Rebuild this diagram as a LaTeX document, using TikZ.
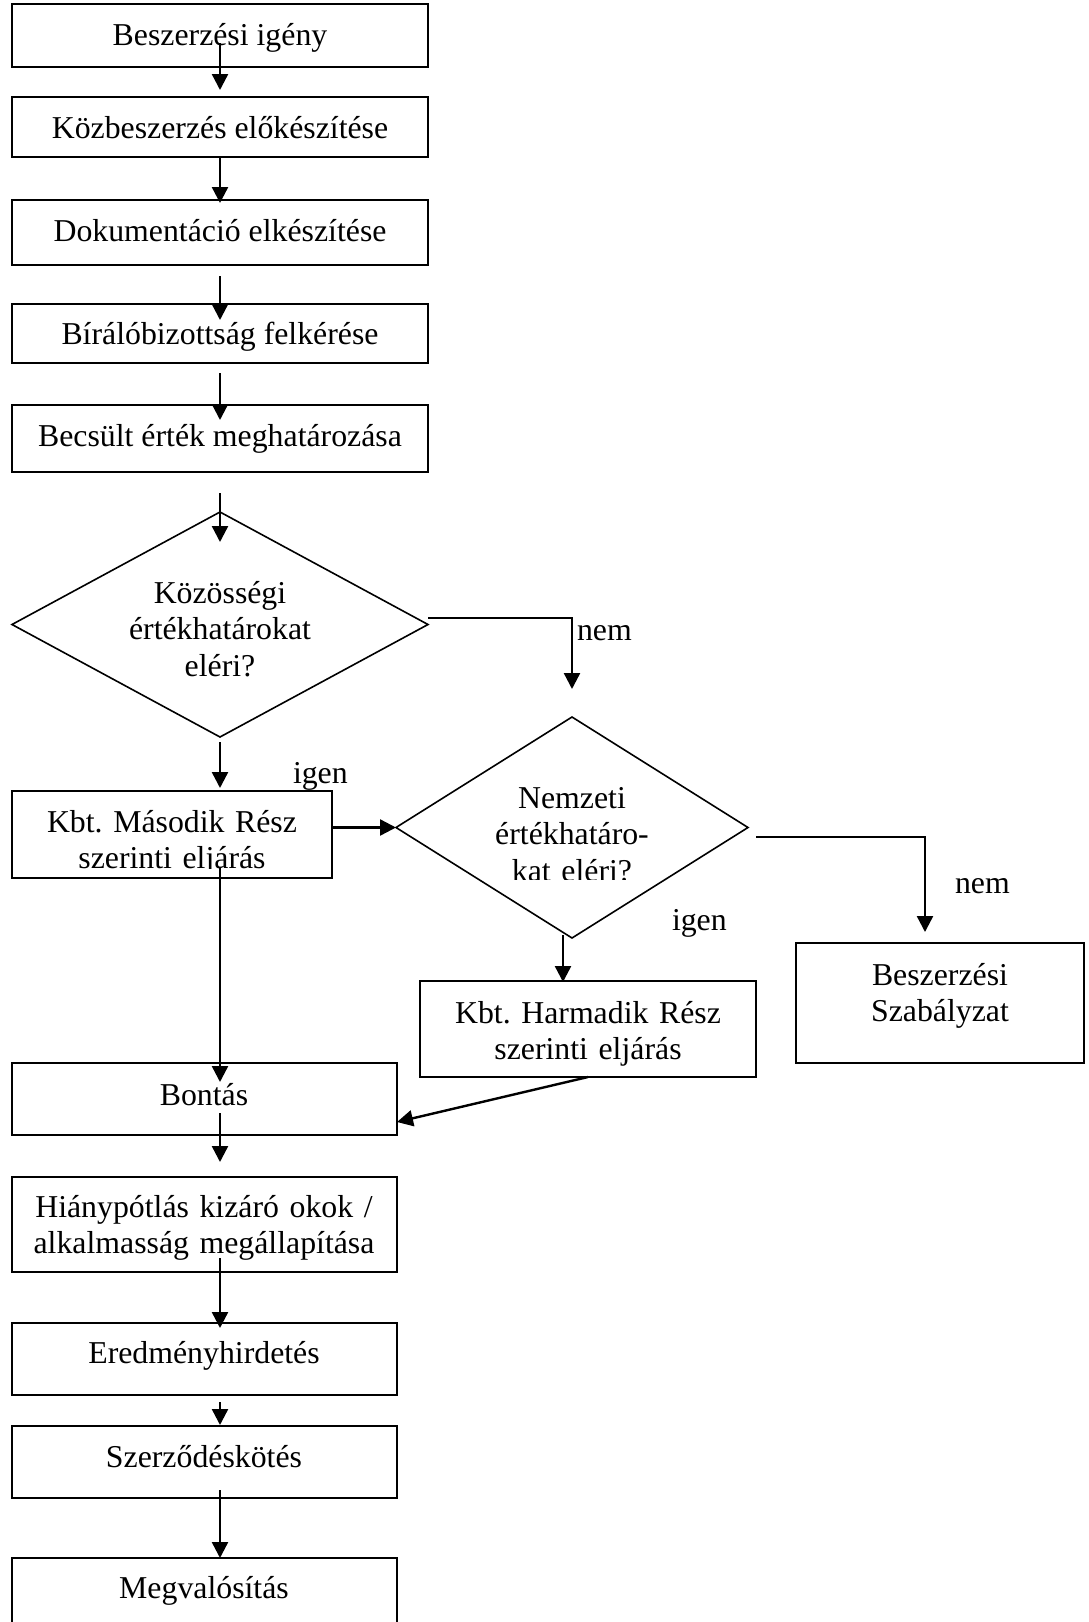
\documentclass[tikz,border=0pt]{standalone}
\usepackage{fontspec}
\setmainfont{Liberation Serif}
\usetikzlibrary{arrows.meta,shapes.geometric,calc}
\frenchspacing
\begin{document}
\begin{tikzpicture}[x=1pt,y=-1pt,
  box/.style={draw, line width=2.3pt, rectangle, inner sep=0pt, outer sep=0pt},
  dia/.style={draw, line width=1.6pt, diamond, inner sep=0pt, outer sep=0pt},
  txt/.style={inner sep=0pt, outer sep=0pt, anchor=base, font=\fontsize{31.8}{36.5}\selectfont\frenchspacing},
  mtxt/.style={txt, text width=420pt, align=center},
  lbl/.style={txt, anchor=base west},
  arr/.style={line width=2.4pt, -{Triangle[length=16pt,width=16pt]}},
]
\useasboundingbox (0,0) rectangle (1089,1622);
\clip (0,0) rectangle (1089,1622);

% shapes
\node[box, minimum width=416pt, minimum height=63pt] (b1) at (220,35.5) {};
\node[box, minimum width=416pt, minimum height=60pt] (b2) at (220,127) {};
\node[box, minimum width=416pt, minimum height=65pt] (b3) at (220,232.5) {};
\node[box, minimum width=416pt, minimum height=59pt] (b4) at (220,333.5) {};
\node[box, minimum width=416pt, minimum height=67pt] (b5) at (220,438.5) {};
\node[dia, minimum width=416pt, minimum height=225pt] (d1) at (220,624.5) {};
\node[box, minimum width=320pt, minimum height=87pt] (k2) at (172,834.5) {};
\node[dia, minimum width=352pt, minimum height=221pt] (d2) at (572,827.5) {};
\node[box, minimum width=336pt, minimum height=96pt] (k3) at (588,1029) {};
\node[box, minimum width=288pt, minimum height=120pt] (bsz) at (940,1003) {};
\node[box, minimum width=385pt, minimum height=72pt] (bon) at (204.5,1099) {};
\node[box, minimum width=385pt, minimum height=95pt] (hia) at (204.5,1224.5) {};
\node[box, minimum width=385pt, minimum height=72pt] (ere) at (204.5,1359) {};
\node[box, minimum width=385pt, minimum height=72pt] (sze) at (204.5,1462) {};
\node[box, minimum width=385pt, minimum height=72pt] (meg) at (204.5,1594) {};

% texts
\node[txt] (b1t) at (220,45) {Beszerzési igény};
\node[txt] (b2t) at (220,138) {Közbeszerzés előkészítése};
\node[txt] (b3t) at (220,241) {Dokumentáció elkészítése};
\node[txt] (b4t) at (220,344) {Bírálóbizottság felkérése};
\node[txt] (b5t) at (220,446) {Becsült érték meghatározása};
\node[mtxt] (d1t) at (220,603) {Közösségi\\értékhatárokat\\eléri?};
\begin{scope}
  \clip (12,791) rectangle (332,868);
  \node[mtxt] (k2t) at (172,832) {Kbt. Második Rész\\szerinti eljárás};
\end{scope}
\begin{scope}
  \clip (396,717) rectangle (748,879);
  \node[mtxt] (d2t) at (572,808) {Nemzeti\\értékhatáro-\\kat eléri?};
\end{scope}
\node[mtxt] (k3t) at (588,1023) {Kbt. Harmadik Rész\\szerinti eljárás};
\node[mtxt] (bszt) at (940,985) {Beszerzési\\Szabályzat};
\node[txt] (bont) at (204,1105) {Bontás};
\node[mtxt] (hiat) at (204,1217) {Hiánypótlás kizáró okok /\\alkalmasság megállapítása};
\node[txt] (eret) at (204,1363) {Eredményhirdetés};
\node[txt] (szet) at (204,1467) {Szerződéskötés};
\node[txt] (megt) at (204,1598) {Megvalósítás};

% labels
\node[lbl] (nem1) at (577,640) {nem};
\node[lbl] (igen1) at (293,783) {igen};
\node[lbl] (nem2) at (955,893) {nem};
\node[lbl] (igen2) at (672,930) {igen};

% connectors
\draw[arr] ($(b1.center)+(0,7.5)$) -- ($(b2.north)+(0,-7)$);
\draw[arr] (b2.south) -- ($(b3.north)+(0,3)$);
\draw[arr] ($(b3.south)+(0,11)$) -- ($(b4.north)+(0,16)$);
\draw[arr] ($(b4.south)+(0,10)$) -- ($(b5.north)+(0,15)$);
\draw[arr] ($(b5.south)+(0,21)$) -- ($(d1.north)+(0,30)$);
\draw[arr] ($(d1.east)+(0,-6.5)$) -| ($(d2.north)+(0,-28)$);
\draw[arr] ($(d1.south)+(0,5)$) -- ($(k2.north)+(48,-3)$);
\draw[arr] (k2.east |- d2.west) -- (d2.west);
\draw[arr] ($(d2.east)+(8,9.5)$) -| ($(bsz.north)+(-15,-11)$);
\draw[arr] ($(d2.south)+(-9,-3)$) -- ($(k3.north)+(-25,1)$);
\draw[arr] (k3.south) -- ($(bon.east)+(0,23)$);
\draw[arr] ($(k2.south)+(48,-10)$) -- ($(bon.north)+(15.5,19)$);
\draw[arr] ($(bon.center)+(15.5,14)$) -- ($(hia.north)+(15.5,-15)$);
\draw[arr] ($(hia.center)+(15.5,33.5)$) -- ($(ere.north)+(15.5,5)$);
\draw[arr] ($(ere.south)+(15.5,7)$) -- ($(sze.north)+(15.5,-1)$);
\draw[arr] ($(sze.south)+(15.5,-8)$) -- ($(meg.north)+(15.5,0)$);
\end{tikzpicture}
\end{document}
